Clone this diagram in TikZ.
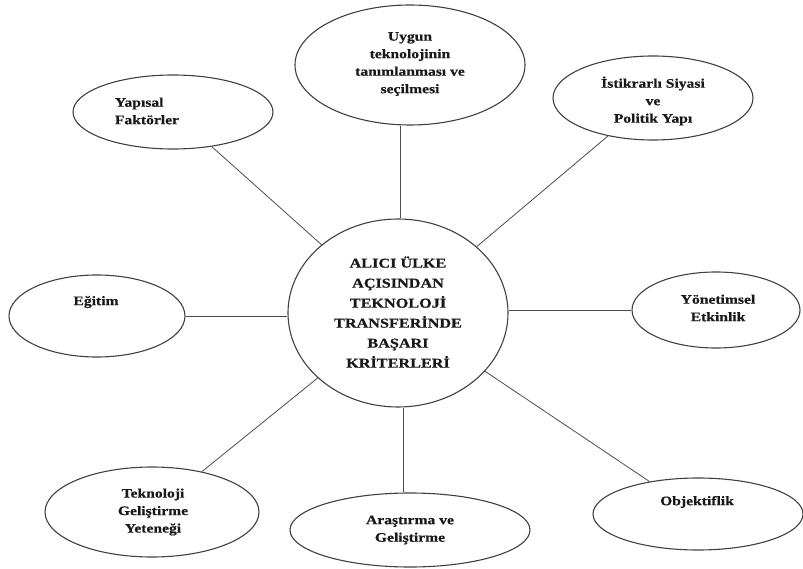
\documentclass[tikz,border=0pt]{standalone}
\usepackage{fontspec}
\setmainfont{Liberation Serif}[FakeStretch=1.2,FakeBold=0.6]
\usetikzlibrary{shapes.geometric}
\begin{document}
\begin{tikzpicture}[x=1pt,y=-1pt,
  bub/.style={draw=black!75,line width=1.1pt,ellipse,inner sep=0pt},
  txt/.style={align=center,font=\fontsize{13}{17.5}\selectfont\bfseries,text=black!90,inner sep=0pt},
  ctxt/.style={align=center,font=\fontsize{13.5}{20}\selectfont\bfseries,text=black!90,inner sep=0pt},
  link/.style={draw=black!70,line width=0.8pt}]
\useasboundingbox (0,0) rectangle (803,569);
% shapes
\node[bub,minimum width=220pt,minimum height=188pt] (C) at (398,313) {};
\node[bub,minimum width=230pt,minimum height=120pt] (U) at (410,65) {};
\node[bub,minimum width=200pt,minimum height=84pt] (I) at (653,98) {};
\node[bub,minimum width=200pt,minimum height=74pt] (Y) at (173,112) {};
\node[bub,minimum width=176pt,minimum height=82pt] (E) at (97,316) {};
\node[bub,minimum width=168pt,minimum height=76pt] (YO) at (716,310) {};
\node[bub,minimum width=214pt,minimum height=90pt] (T) at (152,512) {};
\node[bub,minimum width=240pt,minimum height=74pt] (A) at (410,530) {};
\node[bub,minimum width=210pt,minimum height=72pt] (O) at (698,514) {};
% texts
\node[ctxt] (Ct) at (398,312) {ALICI ÜLKE\\AÇISINDAN\\TEKNOLOJİ\\TRANSFERİNDE\\BAŞARI\\KRİTERLERİ};
\node[txt] (Ut) at (410,64) {Uygun\\teknolojinin\\tanımlanması ve\\seçilmesi};
\node[txt] (It) at (653,101) {İstikrarlı Siyasi\\ve\\Politik Yapı};
\node[txt,align=left] (Yt) at (147,111) {Yapısal\\Faktörler};
\node[txt] (Et) at (96,302) {Eğitim};
\node[txt] (YOt) at (718,308) {Yönetimsel\\Etkinlik};
\node[txt] (Tt) at (153,512) {Teknoloji\\Geliştirme\\Yeteneği};
\node[txt] (At) at (410,530) {Araştırma ve\\Geliştirme};
\node[txt] (Ot) at (697,502) {Objektiflik};
% connectors
\draw[link] ([xshift=2pt]C.north) -- ([xshift=2pt]C.north |- U.south);
\draw[link] ([xshift=5pt]C.south) -- ([xshift=5pt]C.south |- A.north);
\draw[link] (C) -- (Y);
\draw[link] (C) -- (I);
\draw[link] (C.west |- E.east) -- (E.east);
\draw[link] (C.east |- YO.west) -- (YO.west);
\draw[link] (C) -- (T);
\draw[link] (C) -- (O);
\end{tikzpicture}
\end{document}
